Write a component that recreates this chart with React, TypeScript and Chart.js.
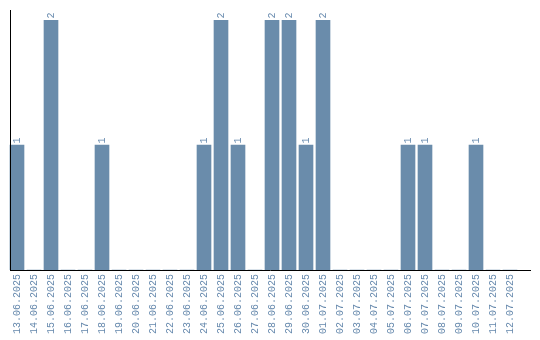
import React, { useEffect, useRef } from "react";
import { Chart, registerables } from "chart.js";

Chart.register(...registerables);

const categories: string[] = [
  "13.06.2025", "14.06.2025", "15.06.2025", "16.06.2025", "17.06.2025",
  "18.06.2025", "19.06.2025", "20.06.2025", "21.06.2025", "22.06.2025",
  "23.06.2025", "24.06.2025", "25.06.2025", "26.06.2025", "27.06.2025",
  "28.06.2025", "29.06.2025", "30.06.2025", "01.07.2025", "02.07.2025",
  "03.07.2025", "04.07.2025", "05.07.2025", "06.07.2025", "07.07.2025",
  "08.07.2025", "09.07.2025", "10.07.2025", "11.07.2025", "12.07.2025",
];

const counts: number[] = [
  1, 0, 2, 0, 0, 1, 0, 0, 0, 0,
  0, 1, 2, 1, 0, 2, 2, 1, 2, 0,
  0, 0, 0, 1, 1, 0, 0, 1, 0, 0,
];

const BAR_COLOR = "#6a8cab";
const TEXT_COLOR = "#6689ad";
const FONT_FAMILY = "'Liberation Mono', monospace";

const axisLines = {
  id: "axisLines",
  afterDraw(chart: any) {
    const { ctx, chartArea } = chart;
    ctx.save();
    ctx.strokeStyle = "#000";
    ctx.lineWidth = 1;
    ctx.beginPath();
    ctx.moveTo(10.5, 10);
    ctx.lineTo(10.5, chartArea.bottom + 1);
    ctx.moveTo(10, chartArea.bottom + 0.5);
    ctx.lineTo(531, chartArea.bottom + 0.5);
    ctx.stroke();
    ctx.restore();
  },
};

const valueLabels = {
  id: "valueLabels",
  afterDatasetsDraw(chart: any) {
    const { ctx } = chart;
    const meta = chart.getDatasetMeta(0);
    const data = chart.data.datasets[0].data as number[];
    ctx.save();
    ctx.fillStyle = TEXT_COLOR;
    ctx.font = `10px ${FONT_FAMILY}`;
    ctx.textAlign = "left";
    ctx.textBaseline = "middle";
    meta.data.forEach((bar: any, i: number) => {
      const v = data[i];
      if (!v) return;
      ctx.save();
      ctx.translate(bar.x, bar.y - 1.5);
      ctx.rotate(-Math.PI / 2);
      ctx.fillText(String(v), 0, 0);
      ctx.restore();
    });
    ctx.restore();
  },
};

export default function App() {
  const canvasRef = useRef<HTMLCanvasElement | null>(null);

  useEffect(() => {
    document.body.style.margin = "0";
    const canvas = canvasRef.current;
    if (!canvas) return;
    const chart = new Chart(canvas, {
      type: "bar",
      data: {
        labels: categories,
        datasets: [
          {
            data: counts,
            backgroundColor: BAR_COLOR,
            borderWidth: 0,
            barThickness: 14,
          },
        ],
      },
      options: {
        animation: false,
        responsive: false,
        maintainAspectRatio: false,
        devicePixelRatio: 1,
        layout: {
          padding: { left: 8.5, right: 21.5, top: 20, bottom: 0 },
        },
        plugins: {
          legend: { display: false },
          tooltip: { enabled: false },
          title: { display: false },
        },
        scales: {
          x: {
            type: "category",
            offset: true,
            grid: { display: false, drawTicks: false },
            border: { display: false },
            ticks: {
              color: TEXT_COLOR,
              font: { family: FONT_FAMILY, size: 10 },
              minRotation: 90,
              maxRotation: 90,
              autoSkip: false,
              padding: 4,
            },
            afterFit(scale: any) {
              scale.height = 70;
            },
          },
          y: {
            display: false,
            min: 0,
            max: 2,
          },
        },
      },
      plugins: [axisLines, valueLabels],
    });
    return () => chart.destroy();
  }, []);

  return (
    <div style={{ width: 540, height: 340 }}>
      <canvas ref={canvasRef} width={540} height={340} style={{ display: "block" }} />
    </div>
  );
}
